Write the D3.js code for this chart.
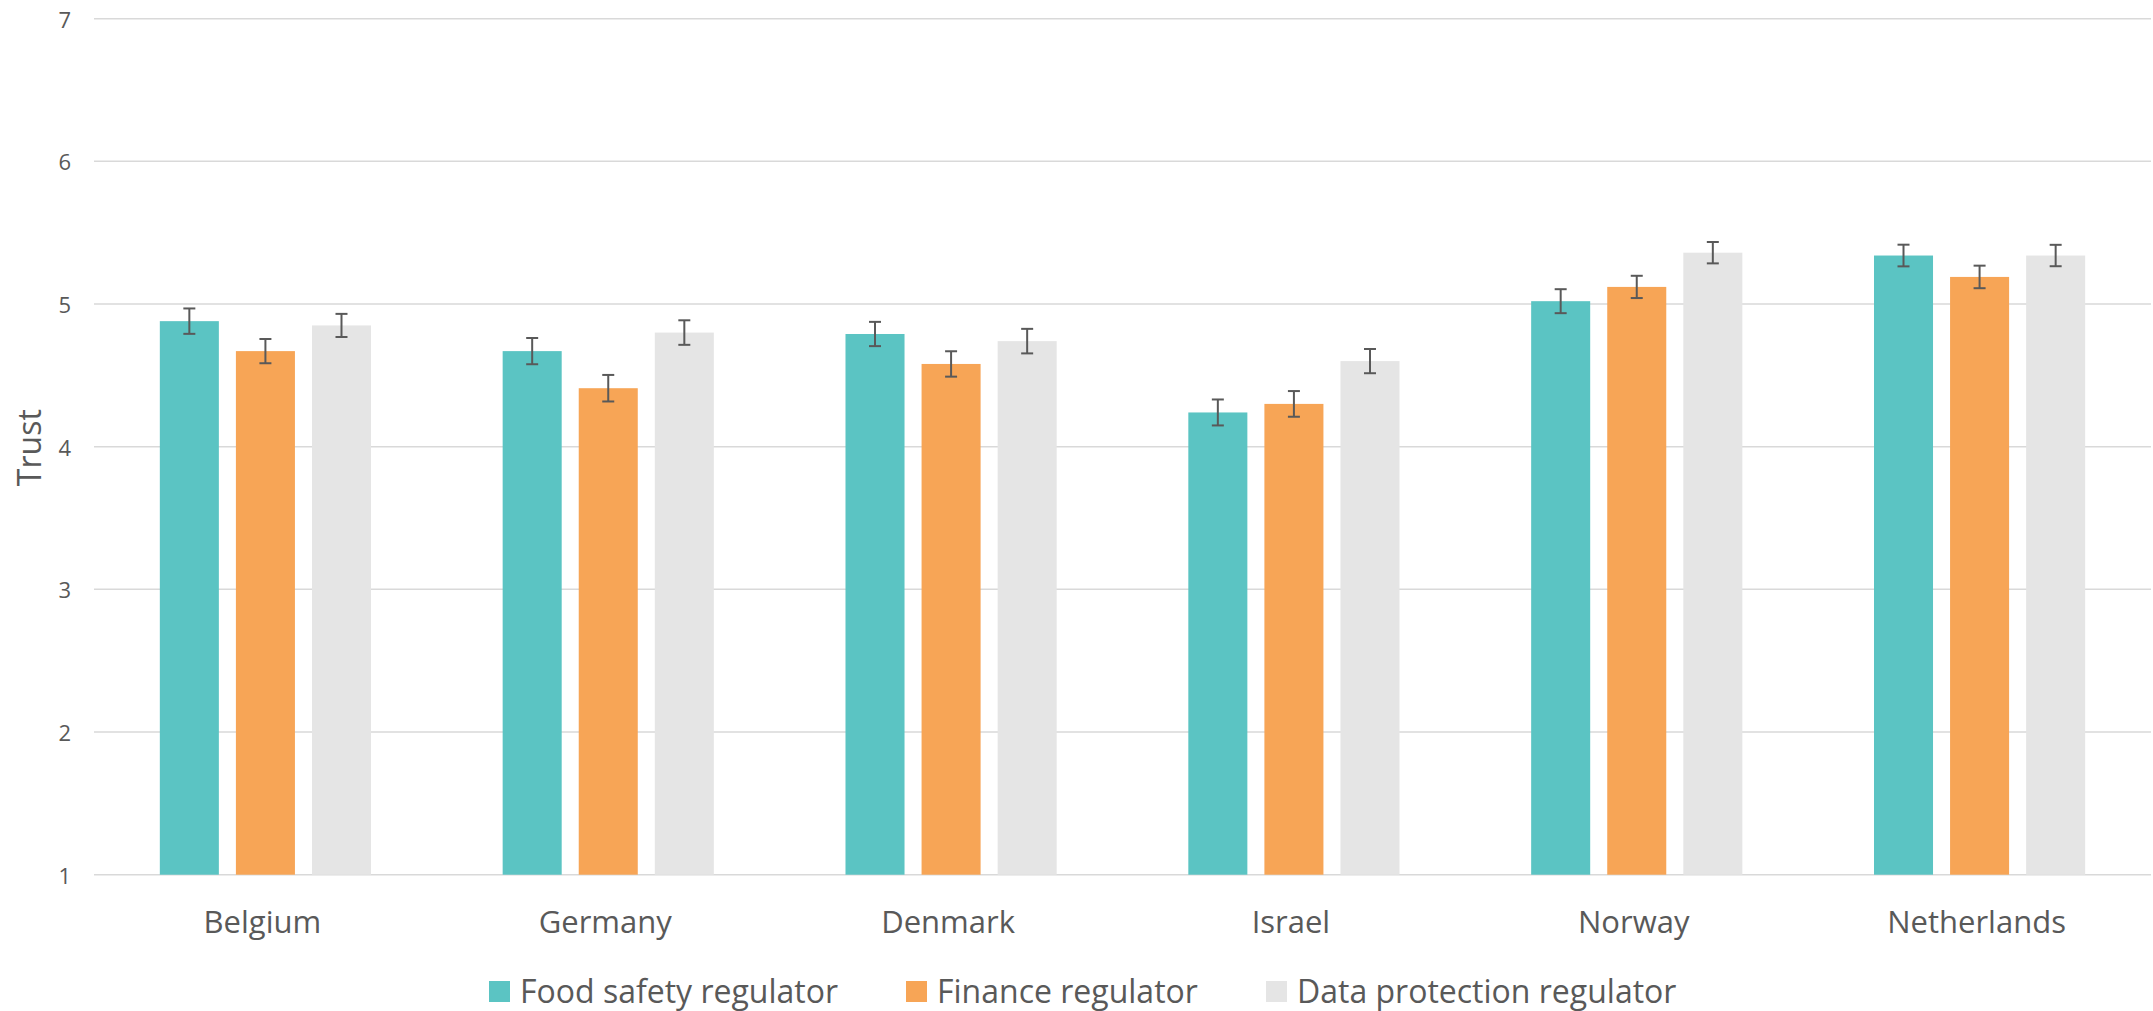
<!DOCTYPE html>
<html>
<head>
<meta charset="utf-8">
<script src="https://cdn.jsdelivr.net/npm/d3@7"></script>
<style>
  html, body { margin: 0; padding: 0; background: #fff; }
  svg { display: block; }
  text { font-family: "Open Sans", "Noto Sans", sans-serif; fill: #595959; font-weight: 400; }
</style>
</head>
<body>
<svg id="chart" width="2153" height="1011"></svg>
<script>
const countries = ["Belgium", "Germany", "Denmark", "Israel", "Norway", "Netherlands"];
const seriesNames = ["Food safety regulator", "Finance regulator", "Data protection regulator"];
const seriesColors = ["#5BC4C3", "#F7A556", "#E5E5E5"];
const foodSafety = [4.88, 4.67, 4.79, 4.24, 5.02, 5.34];
const finance = [4.67, 4.41, 4.58, 4.30, 5.12, 5.19];
const dataProtection = [4.85, 4.80, 4.74, 4.60, 5.36, 5.34];
const foodSafetyErr = [0.089, 0.092, 0.085, 0.091, 0.084, 0.076];
const financeErr = [0.085, 0.093, 0.089, 0.090, 0.078, 0.079];
const dataProtectionErr = [0.081, 0.086, 0.086, 0.085, 0.075, 0.075];
const yTicks = [1, 2, 3, 4, 5, 6, 7];
const yLabel = "Trust";

const values = [foodSafety, finance, dataProtection];
const errs = [foodSafetyErr, financeErr, dataProtectionErr];

const svg = d3.select("#chart");
const plot = { left: 94, right: 2151, top: 18.7, bottom: 874.7 };

const x0 = d3.scaleBand().domain(countries).range([plot.left, plot.right])
  .paddingInner(0.384).paddingOuter(0.192);
const x1 = d3.scaleBand().domain(seriesNames).range([0, x0.bandwidth()])
  .paddingInner(0.224).paddingOuter(0);
const y = d3.scaleLinear().domain([1, 7]).range([plot.bottom, plot.top]);

// gridlines
svg.append("g").selectAll("line").data(yTicks).join("line")
  .attr("x1", plot.left).attr("x2", plot.right)
  .attr("y1", d => y(d)).attr("y2", d => y(d))
  .attr("stroke", "#D9D9D9").attr("stroke-width", 1.5);

// y tick labels
svg.append("g").selectAll("text").data(yTicks).join("text")
  .attr("x", 71).attr("y", d => y(d))
  .attr("text-anchor", "end").attr("dominant-baseline", "central")
  .attr("font-size", 22).text(d => d);

// y label
svg.append("text")
  .attr("transform", `translate(41, ${y(4) + 1}) rotate(-90)`)
  .attr("text-anchor", "middle")
  .attr("font-size", 32).text(yLabel);

// bars
const rows = countries.map((c, i) => ({ country: c, items: seriesNames.map((s, j) => ({ s, j, v: values[j][i], e: errs[j][i] })) }));
const groups = svg.append("g").selectAll("g").data(rows).join("g")
  .attr("transform", d => `translate(${x0(d.country)},0)`);

groups.selectAll("rect").data(d => d.items).join("rect")
  .attr("x", d => x1(d.s)).attr("width", x1.bandwidth())
  .attr("y", d => y(d.v)).attr("height", d => y(1) - y(d.v))
  .attr("fill", d => seriesColors[d.j]);

// error bars
const eb = groups.selectAll("g.err").data(d => d.items).join("g").attr("class", "err")
  .attr("stroke", "#595959").attr("stroke-width", 2);
eb.append("line")
  .attr("x1", d => x1(d.s) + x1.bandwidth() / 2).attr("x2", d => x1(d.s) + x1.bandwidth() / 2)
  .attr("y1", d => y(d.v + d.e)).attr("y2", d => y(d.v - d.e));
eb.append("line")
  .attr("x1", d => x1(d.s) + x1.bandwidth() / 2 - 6).attr("x2", d => x1(d.s) + x1.bandwidth() / 2 + 6)
  .attr("y1", d => y(d.v + d.e)).attr("y2", d => y(d.v + d.e));
eb.append("line")
  .attr("x1", d => x1(d.s) + x1.bandwidth() / 2 - 6).attr("x2", d => x1(d.s) + x1.bandwidth() / 2 + 6)
  .attr("y1", d => y(d.v - d.e)).attr("y2", d => y(d.v - d.e));

// category labels
svg.append("g").selectAll("text").data(countries).join("text")
  .attr("x", d => x0(d) + x0.bandwidth() / 2 - 3).attr("y", 933)
  .attr("text-anchor", "middle").attr("font-size", 31).text(d => d);

// legend
const legend = svg.append("g");
const legendX = [489, 906, 1266];
seriesNames.forEach((s, j) => {
  legend.append("rect").attr("x", legendX[j]).attr("y", 981).attr("width", 21).attr("height", 21)
    .attr("fill", seriesColors[j]);
  legend.append("text").attr("x", legendX[j] + 31).attr("y", 1002.5)
    .attr("font-size", 32).text(s);
});
</script>
</body>
</html>
